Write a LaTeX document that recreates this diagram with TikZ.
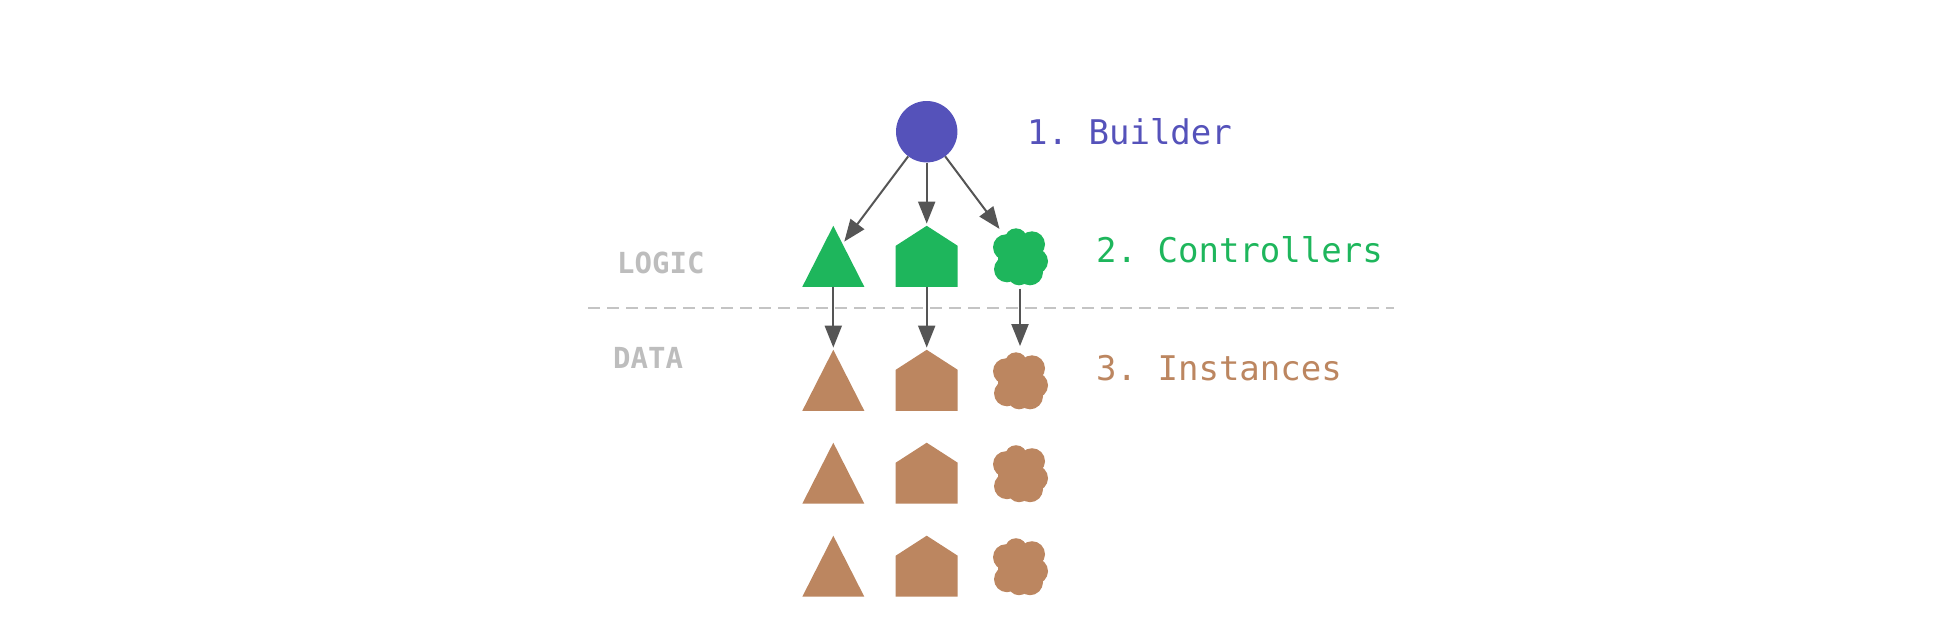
\documentclass[tikz,border=0pt]{standalone}
\usepackage{fontspec}
\setmonofont{DejaVu Sans Mono}
\usetikzlibrary{arrows.meta}

\definecolor{buildercol}{HTML}{5552BA}
\definecolor{logiccol}{HTML}{1EB65C}
\definecolor{instcol}{HTML}{BC8660}
\definecolor{arrowcol}{HTML}{555555}
\definecolor{dividercol}{HTML}{C4C4C4}
\definecolor{layercol}{HTML}{BDBDBD}

\tikzset{
	link/.style = {draw=arrowcol, line width=2pt, shorten >=2pt, -{Triangle[length=22pt,width=17pt]}},
	tri/.style = {rectangle, minimum width=62pt, minimum height=61pt, inner sep=0pt,
		path picture={\fill[#1] (path picture bounding box.south west) -- (path picture bounding box.south east)
			-- (path picture bounding box.north) -- cycle;}},
	house/.style = {rectangle, minimum width=62pt, minimum height=61pt, inner sep=0pt,
		path picture={\fill[#1] (path picture bounding box.south west) -- (path picture bounding box.south east)
			-- ([yshift=-20pt]path picture bounding box.north east) -- (path picture bounding box.north)
			-- ([yshift=-20pt]path picture bounding box.north west) -- cycle;}},
	blob/.style = {circle, minimum size=64pt, inner sep=0pt,
		path picture={\foreach \dx/\dy/\rad in {0/2/22, -4/-17/11, -14/-9/13, 12/-12/13, 15/5/13,
				10/16/13, -1/18/11, -13/13/13}
			\fill[#1] ([shift={(\dx,\dy)}]path picture bounding box.center) circle[radius=\rad pt];}},
	step label/.style = {font=\ttfamily\fontsize{34}{40}\selectfont, anchor=base west, inner sep=0pt},
	layer label/.style = {font=\ttfamily\bfseries\fontsize{29}{35}\selectfont, anchor=base west,
		inner sep=0pt, text=layercol}
}

\begin{document}
\begin{tikzpicture}[x=1pt,y=-1pt]
	\useasboundingbox (0,0) rectangle (1959,637);
	% builder and controllers
	\node[circle, fill=buildercol, minimum size=61.4pt, inner sep=0pt] (builder) at (926.7,131.7) {};
	\node[tri=logiccol] (ctrltri) at (833.3,256.3) {};
	\node[house=logiccol] (ctrlhouse) at (926.7,256.3) {};
	\node[blob=logiccol] (ctrlcloud) at (1020,256.3) {};
	% instances
	\foreach \r/\y in {1/380.3, 2/473.2, 3/566.2} {
		\node[tri=instcol] (insttri\r) at (833.3,\y) {};
		\node[house=instcol] (insthouse\r) at (926.7,\y) {};
		\node[blob=instcol] (instcloud\r) at (1020,\y) {};
	}
	\draw[dividercol, line width=2pt, dash pattern=on 11.5pt off 7.5pt] (588.3,307.7) -- (1394,307.7);
	\node[layer label] (logic) at (617,273) {LOGIC};
	\node[layer label] (data) at (613,368) {DATA};
	\node[step label, text=buildercol] (stepbuilder) at (1027,144) {1. Builder};
	\node[step label, text=logiccol] (stepctrl) at (1096,262.3) {2. Controllers};
	\node[step label, text=instcol] (stepinst) at (1096,380) {3. Instances};
	\draw[link, shorten >=-20pt] (builder) -- (ctrltri);
	\draw[link] (builder) -- (ctrlhouse);
	\draw[link] (builder) -- (ctrlcloud);
	\draw[link] (ctrltri) -- (insttri1);
	\draw[link] (ctrlhouse) -- (insthouse1);
	\draw[link] (ctrlcloud) -- (instcloud1);
\end{tikzpicture}
\end{document}
